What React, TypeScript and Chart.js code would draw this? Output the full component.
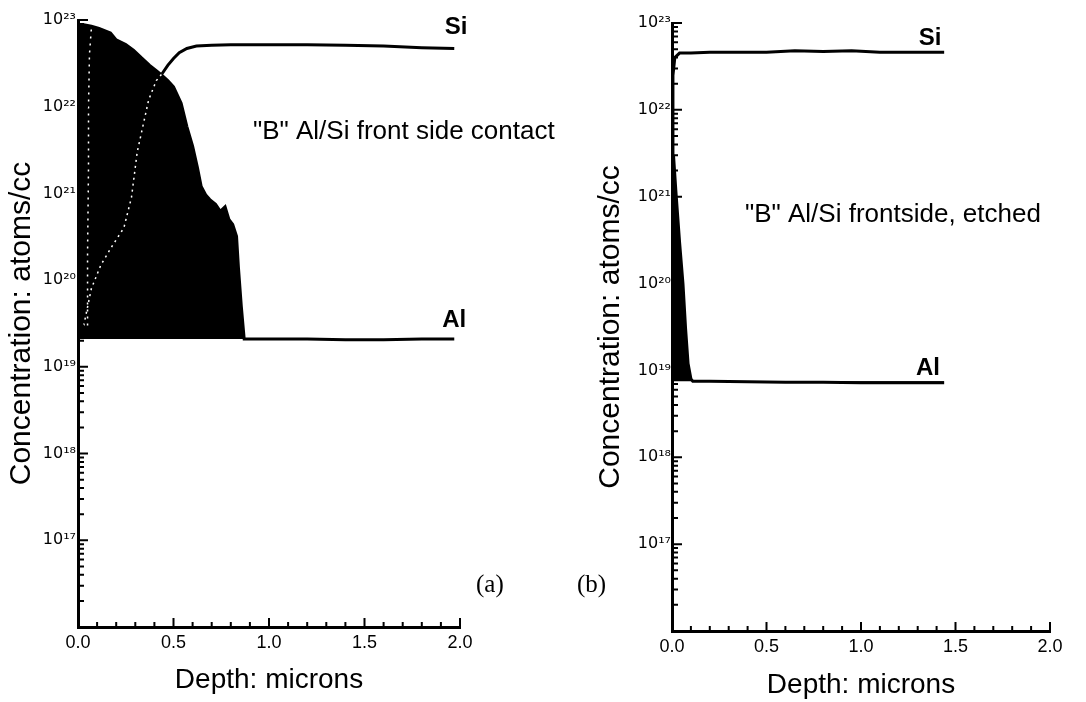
import React, { useEffect, useRef } from "react";
import { Chart, registerables } from "chart.js";

Chart.register(...registerables);

const FONT = '"Liberation Sans", Arial, Helvetica, sans-serif';
const TICK_FONT = '"DejaVu Sans", "Liberation Sans", sans-serif';

// ---------- Panel (a): "B" Al/Si front side contact ----------
const aSiDepth = [0.03, 0.07, 0.12, 0.18, 0.24, 0.28, 0.31, 0.34, 0.37, 0.41, 0.44, 0.47, 0.5, 0.53, 0.57, 0.62, 0.7, 0.8, 1.0, 1.2, 1.4, 1.6, 1.8, 1.97];
const aSiConc = [3e19, 8e19, 1.5e20, 2.5e20, 4e20, 9e20, 3e21, 6e21, 1.2e22, 2e22, 2.4e22, 3e22, 3.6e22, 4.2e22, 4.7e22, 5e22, 5.1e22, 5.2e22, 5.2e22, 5.2e22, 5.1e22, 5e22, 4.8e22, 4.7e22];
const aAlDepth = [0, 0.03, 0.07, 0.11, 0.17, 0.2, 0.25, 0.29, 0.33, 0.375, 0.41, 0.44, 0.47, 0.5, 0.54, 0.57, 0.6, 0.625, 0.645, 0.67, 0.69, 0.72, 0.745, 0.77, 0.79, 0.81, 0.83, 0.84, 0.855, 0.87, 1.0, 1.2, 1.4, 1.6, 1.8, 1.97];
const aAlConc = [8.8e22, 8.8e22, 8.5e22, 8e22, 7.1e22, 5.9e22, 5.2e22, 4.5e22, 3.7e22, 3e22, 2.6e22, 2.3e22, 2e22, 1.7e22, 1.1e22, 5.9e21, 3.5e21, 2e21, 1.2e21, 9.5e20, 8.5e20, 7.5e20, 6.2e20, 7e20, 5e20, 4.4e20, 3.2e20, 1.4e20, 5e19, 2.1e19, 2.1e19, 2.1e19, 2.05e19, 2.05e19, 2.1e19, 2.1e19];
const aAlBase = 2.1e19;
const aTraceDepth = [0.05, 0.05, 0.055, 0.055, 0.06, 0.07];
const aTraceConc = [3e19, 2e20, 2e21, 1e22, 4e22, 8e22];
const aSiHiddenBelow = 0.42; // Si runs inside the black Al region up to here

// ---------- Panel (b): "B" Al/Si frontside, etched ----------
const bSiDepth = [0, 0.005, 0.015, 0.04, 0.1, 0.2, 0.35, 0.5, 0.65, 0.8, 0.95, 1.1, 1.25, 1.44];
const bSiConc = [3e21, 2.5e22, 4e22, 4.5e22, 4.5e22, 4.6e22, 4.6e22, 4.6e22, 4.8e22, 4.7e22, 4.8e22, 4.6e22, 4.6e22, 4.6e22];
const bAlDepth = [0, 0.008, 0.02, 0.04, 0.058, 0.072, 0.085, 0.1, 0.11, 0.2, 0.4, 0.6, 0.8, 1.0, 1.2, 1.44];
const bAlConc = [7.5e18, 3e21, 1.2e21, 3e20, 1e20, 3e19, 1.2e19, 8e18, 7.5e18, 7.5e18, 7.4e18, 7.3e18, 7.3e18, 7.2e18, 7.2e18, 7.2e18];
const bAlBase = 7.5e18;

// ---------- Axes ----------
const yDecades = [17, 18, 19, 20, 21, 22, 23];
const SUP = "⁰¹²³⁴⁵⁶⁷⁸⁹";
const yTickLabels = yDecades.map((d) => "10" + String(d).split("").map((c) => SUP[+c]).join(""));
const xTickValues = [0, 0.5, 1, 1.5, 2];
const xTickLabels = ["0.0", "0.5", "1.0", "1.5", "2.0"];

const zip = (xs: number[], ys: number[]) => xs.map((x, i) => ({ x, y: ys[i] }));

const inwardTicks = {
  id: "inwardTicks",
  afterDraw(chart: any) {
    const { ctx, chartArea, scales } = chart;
    const x = scales.x;
    const y = scales.y;
    ctx.save();
    ctx.strokeStyle = "#000";
    ctx.lineWidth = 2;
    ctx.beginPath();
    for (let d = 16; d < 23; d++) {
      for (let k = 1; k <= 9; k++) {
        if (d === 16 && k === 1) continue;
        const py = y.getPixelForValue(k * Math.pow(10, d));
        const len = k === 1 ? 10 : 6;
        ctx.moveTo(chartArea.left, py);
        ctx.lineTo(chartArea.left + len, py);
      }
    }
    const pTop = y.getPixelForValue(1e23);
    ctx.moveTo(chartArea.left, pTop);
    ctx.lineTo(chartArea.left + 10, pTop);
    for (let i = 1; i <= 20; i++) {
      const px = x.getPixelForValue(i / 10);
      const len = i % 5 === 0 ? 9 : 5;
      ctx.moveTo(px, chartArea.bottom);
      ctx.lineTo(px, chartArea.bottom - len);
    }
    ctx.stroke();
    ctx.restore();
  },
};

const textLabels = {
  id: "textLabels",
  afterDatasetsDraw(chart: any, _args: any, opts: any) {
    const items = (opts && opts.items) || [];
    const { ctx, scales } = chart;
    ctx.save();
    ctx.fillStyle = "#000";
    for (const it of items) {
      const px = scales.x.getPixelForValue(it.x);
      const py = scales.y.getPixelForValue(it.y);
      ctx.font = it.font;
      ctx.textAlign = it.align;
      ctx.textBaseline = "middle";
      ctx.fillText(it.text, px, py);
    }
    ctx.restore();
  },
};

function makeOptions(p: any) {
  return {
    animation: false,
    responsive: false,
    devicePixelRatio: 1,
    layout: { padding: { left: p.padLeft, right: p.padRight, top: p.padTop, bottom: 0 } },
    plugins: {
      legend: { display: false },
      tooltip: { enabled: false },
      textLabels: { items: p.labels },
    },
    scales: {
      x: {
        type: "linear",
        min: 0,
        max: 2,
        afterBuildTicks: (s: any) => {
          s.ticks = xTickValues.map((v) => ({ value: v }));
        },
        afterFit: (s: any) => {
          s.height = p.xHeight;
        },
        ticks: {
          callback: (_v: any, i: number) => xTickLabels[i],
          font: { family: FONT, size: 18 },
          color: "#000",
          padding: 5,
          maxRotation: 0,
          autoSkip: false,
        },
        grid: { display: true, drawOnChartArea: false, drawTicks: false, color: "rgba(0,0,0,0)" },
        border: { display: true, color: "#000", width: 3 },
        title: {
          display: true,
          text: "Depth: microns",
          font: { family: FONT, size: 28 },
          color: "#000",
          padding: { top: 0, bottom: p.xTitlePad },
        },
      },
      y: {
        type: "logarithmic",
        min: 1e16,
        max: 1e23,
        afterBuildTicks: (s: any) => {
          s.ticks = yDecades.map((d) => ({ value: Math.pow(10, d) }));
        },
        afterFit: (s: any) => {
          s.width = p.yWidth;
        },
        ticks: {
          callback: (_v: any, i: number) => yTickLabels[i],
          font: { family: TICK_FONT, size: 16 },
          color: "#000",
          padding: p.yTickPad,
          autoSkip: false,
        },
        grid: { display: true, drawOnChartArea: false, drawTicks: false, color: "rgba(0,0,0,0)" },
        border: { display: true, color: "#000", width: 3 },
        title: {
          display: true,
          text: "Concentration: atoms/cc",
          font: { family: FONT, size: 30 },
          color: "#000",
          padding: { top: p.yTitlePad, bottom: 0 },
        },
      },
    },
  };
}

export default function App() {
  const refA = useRef<HTMLCanvasElement | null>(null);
  const refB = useRef<HTMLCanvasElement | null>(null);

  useEffect(() => {
    document.body.style.margin = "0";
    const chartA = new Chart(refA.current as HTMLCanvasElement, {
      type: "line",
      data: {
        datasets: [
          {
            label: "Si",
            data: zip(aSiDepth, aSiConc),
            borderColor: "#000",
            borderWidth: 3,
            pointRadius: 0,
            fill: false,
            order: 1,
            segment: {
              borderColor: (c: any) => (c.p0.parsed.x < aSiHiddenBelow ? "#fff" : "#000"),
              borderDash: (c: any) => (c.p0.parsed.x < aSiHiddenBelow ? [2, 4] : undefined),
              borderWidth: (c: any) => (c.p0.parsed.x < aSiHiddenBelow ? 1.5 : 3),
            },
          },
          {
            label: "trace",
            data: zip(aTraceDepth, aTraceConc),
            borderColor: "#fff",
            borderWidth: 1.5,
            borderDash: [2, 5],
            pointRadius: 0,
            fill: false,
            order: 2,
          },
          {
            label: "Al",
            data: zip(aAlDepth, aAlConc),
            borderColor: "#000",
            backgroundColor: "#000",
            borderWidth: 3,
            pointRadius: 0,
            fill: { value: aAlBase },
            order: 3,
          },
        ],
      } as any,
      options: makeOptions({
        padLeft: 0,
        padRight: 140,
        padTop: 20,
        xHeight: 75,
        yWidth: 78,
        xTitlePad: 5,
        yTitlePad: 4,
        yTickPad: 2,
        labels: [
          { text: "Si", x: 1.98, y: 8.3e22, font: `bold 24px ${FONT}`, align: "center" },
          { text: "Al", x: 1.97, y: 3.4e19, font: `bold 24px ${FONT}`, align: "center" },
          { text: '"B" Al/Si front side contact', x: 0.916, y: 5.1e21, font: `26px ${FONT}`, align: "left" },
        ],
      }) as any,
      plugins: [textLabels, inwardTicks],
    });

    const chartB = new Chart(refB.current as HTMLCanvasElement, {
      type: "line",
      data: {
        datasets: [
          {
            label: "Si",
            data: zip(bSiDepth, bSiConc),
            borderColor: "#000",
            borderWidth: 3,
            pointRadius: 0,
            fill: false,
            order: 1,
          },
          {
            label: "Al",
            data: zip(bAlDepth, bAlConc),
            borderColor: "#000",
            backgroundColor: "#000",
            borderWidth: 3,
            pointRadius: 0,
            fill: { value: bAlBase },
            order: 2,
          },
        ],
      } as any,
      options: makeOptions({
        padLeft: 53,
        padRight: 36,
        padTop: 23,
        xHeight: 71,
        yWidth: 79,
        xTitlePad: 0,
        yTitlePad: 0,
        yTickPad: 1,
        labels: [
          { text: "Si", x: 1.365, y: 6.7e22, font: `bold 24px ${FONT}`, align: "center" },
          { text: "Al", x: 1.354, y: 1.07e19, font: `bold 24px ${FONT}`, align: "center" },
          { text: '"B" Al/Si frontside, etched', x: 0.386, y: 6.2e20, font: `26px ${FONT}`, align: "left" },
        ],
      }) as any,
      plugins: [textLabels, inwardTicks],
    });

    return () => {
      chartA.destroy();
      chartB.destroy();
    };
  }, []);

  const serif = '"Liberation Serif", "DejaVu Serif", serif';
  return (
    <div style={{ position: "absolute", left: 0, top: 0, width: 1086, height: 702, background: "#fff", overflow: "hidden" }}>
      <canvas ref={refA} width={600} height={702} style={{ position: "absolute", left: 0, top: 0, width: 600, height: 702 }} />
      <canvas ref={refB} width={546} height={702} style={{ position: "absolute", left: 540, top: 0, width: 546, height: 702 }} />
      <div style={{ position: "absolute", left: 476, top: 570, fontFamily: serif, fontSize: 25, lineHeight: "28px", color: "#000" }}>(a)</div>
      <div style={{ position: "absolute", left: 577, top: 570, fontFamily: serif, fontSize: 25, lineHeight: "28px", color: "#000" }}>(b)</div>
    </div>
  );
}
